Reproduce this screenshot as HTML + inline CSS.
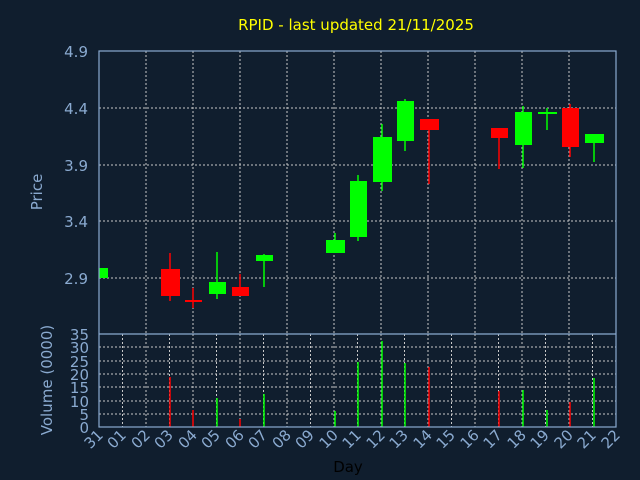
<!DOCTYPE html>
<html><head><style>html,body{margin:0;padding:0;background:#101e2e;}svg{display:block;font-family:"DejaVu Sans","Liberation Sans",sans-serif;}</style></head>
<body>
<svg width="640" height="480" viewBox="0 0 640 480">
<rect width="640" height="480" fill="#101e2e"/>
<text x="356" y="30" fill="#ffff00" font-size="15" text-anchor="middle">RPID - last updated 21/11/2025</text>
<g stroke="#c8c8c8" stroke-dasharray="2,2" stroke-width="1">
<line x1="99" x2="616" y1="108" y2="108"/><line x1="99" x2="616" y1="165" y2="165"/><line x1="99" x2="616" y1="221" y2="221"/><line x1="99" x2="616" y1="278" y2="278"/>
<line x1="146" x2="146" y1="51" y2="334"/><line x1="193" x2="193" y1="51" y2="334"/><line x1="240" x2="240" y1="51" y2="334"/><line x1="287" x2="287" y1="51" y2="334"/><line x1="334" x2="334" y1="51" y2="334"/><line x1="381" x2="381" y1="51" y2="334"/><line x1="428" x2="428" y1="51" y2="334"/><line x1="475" x2="475" y1="51" y2="334"/><line x1="522" x2="522" y1="51" y2="334"/><line x1="569" x2="569" y1="51" y2="334"/>
<line x1="99" x2="616" y1="347" y2="347"/><line x1="99" x2="616" y1="361" y2="361"/><line x1="99" x2="616" y1="374" y2="374"/><line x1="99" x2="616" y1="387" y2="387"/><line x1="99" x2="616" y1="401" y2="401"/><line x1="99" x2="616" y1="414" y2="414"/>
<line x1="122.5" x2="122.5" y1="334" y2="427"/><line x1="146" x2="146" y1="334" y2="427"/><line x1="169.5" x2="169.5" y1="334" y2="427"/><line x1="193" x2="193" y1="334" y2="427"/><line x1="216.5" x2="216.5" y1="334" y2="427"/><line x1="240" x2="240" y1="334" y2="427"/><line x1="263.5" x2="263.5" y1="334" y2="427"/><line x1="287" x2="287" y1="334" y2="427"/><line x1="310.5" x2="310.5" y1="334" y2="427"/><line x1="334" x2="334" y1="334" y2="427"/><line x1="357.5" x2="357.5" y1="334" y2="427"/><line x1="381" x2="381" y1="334" y2="427"/><line x1="404.5" x2="404.5" y1="334" y2="427"/><line x1="428" x2="428" y1="334" y2="427"/><line x1="451.5" x2="451.5" y1="334" y2="427"/><line x1="475" x2="475" y1="334" y2="427"/><line x1="498.5" x2="498.5" y1="334" y2="427"/><line x1="522" x2="522" y1="334" y2="427"/><line x1="545.5" x2="545.5" y1="334" y2="427"/><line x1="569" x2="569" y1="334" y2="427"/><line x1="592.5" x2="592.5" y1="334" y2="427"/>
</g>
<g stroke-width="1.5">
<rect x="99" y="268" width="9" height="10" fill="#00ff00"/>
<line x1="170" x2="170" y1="253" y2="301" stroke="#ff0000"/><rect x="161" y="269" width="19" height="27" fill="#ff0000"/>
<line x1="193" x2="193" y1="288" y2="308" stroke="#ff0000"/><rect x="185" y="300" width="17" height="2" fill="#ff0000"/>
<line x1="217" x2="217" y1="252" y2="299" stroke="#00ff00"/><rect x="209" y="282" width="17" height="12" fill="#00ff00"/>
<line x1="240" x2="240" y1="274" y2="296" stroke="#ff0000"/><rect x="232" y="287" width="17" height="9" fill="#ff0000"/>
<line x1="264" x2="264" y1="254" y2="287" stroke="#00ff00"/><rect x="256" y="255" width="17" height="6" fill="#00ff00"/>
<line x1="335" x2="335" y1="233" y2="253" stroke="#00ff00"/><rect x="326" y="240" width="19" height="13" fill="#00ff00"/>
<line x1="358" x2="358" y1="175" y2="241" stroke="#00ff00"/><rect x="350" y="181" width="17" height="56" fill="#00ff00"/>
<line x1="382" x2="382" y1="124" y2="191" stroke="#00ff00"/><rect x="373" y="137" width="19" height="45" fill="#00ff00"/>
<line x1="405" x2="405" y1="99" y2="151" stroke="#00ff00"/><rect x="397" y="101" width="17" height="40" fill="#00ff00"/>
<line x1="429" x2="429" y1="119" y2="184" stroke="#ff0000"/><rect x="420" y="119" width="19" height="11" fill="#ff0000"/>
<line x1="499" x2="499" y1="128" y2="169" stroke="#ff0000"/><rect x="491" y="128" width="17" height="10" fill="#ff0000"/>
<line x1="523" x2="523" y1="106" y2="168" stroke="#00ff00"/><rect x="515" y="112" width="17" height="33" fill="#00ff00"/>
<line x1="547" x2="547" y1="108" y2="130" stroke="#00ff00"/><rect x="538" y="112" width="19" height="2" fill="#00ff00"/>
<line x1="570" x2="570" y1="104" y2="157" stroke="#ff0000"/><rect x="562" y="108" width="17" height="39" fill="#ff0000"/>
<line x1="594" x2="594" y1="134" y2="162" stroke="#00ff00"/><rect x="585" y="134" width="19" height="9" fill="#00ff00"/>
</g>
<g stroke-width="1.5">
<line x1="170" x2="170" y1="377" y2="427" stroke="#ff0000"/>
<line x1="193" x2="193" y1="410" y2="427" stroke="#ff0000"/>
<line x1="217" x2="217" y1="398" y2="427" stroke="#00ff00"/>
<line x1="240" x2="240" y1="419" y2="427" stroke="#ff0000"/>
<line x1="264" x2="264" y1="394" y2="427" stroke="#00ff00"/>
<line x1="335" x2="335" y1="411" y2="427" stroke="#00ff00"/>
<line x1="358" x2="358" y1="362" y2="427" stroke="#00ff00"/>
<line x1="382" x2="382" y1="341" y2="427" stroke="#00ff00"/>
<line x1="405" x2="405" y1="363" y2="427" stroke="#00ff00"/>
<line x1="429" x2="429" y1="367" y2="427" stroke="#ff0000"/>
<line x1="499" x2="499" y1="391" y2="427" stroke="#ff0000"/>
<line x1="523" x2="523" y1="390" y2="427" stroke="#00ff00"/>
<line x1="547" x2="547" y1="410" y2="427" stroke="#00ff00"/>
<line x1="570" x2="570" y1="402" y2="427" stroke="#ff0000"/>
<line x1="594" x2="594" y1="378" y2="427" stroke="#00ff00"/>
</g>
<g stroke="#8aaad0" stroke-width="1.2" fill="none">
<rect x="99" y="51" width="517" height="376"/>
<line x1="99" x2="616" y1="334" y2="334"/>
</g>
<g fill="#8aaad0" font-size="15" text-anchor="end">
<text x="88" y="57">4.9</text><text x="88" y="114">4.4</text><text x="88" y="171">3.9</text><text x="88" y="227">3.4</text><text x="88" y="284">2.9</text>
</g>
<g fill="#8aaad0" font-size="15" text-anchor="end">
<text x="89" y="340">35</text><text x="89" y="353">30</text><text x="89" y="367">25</text><text x="89" y="380">20</text><text x="89" y="393">15</text><text x="89" y="407">10</text><text x="89" y="420">5</text><text x="89" y="433">0</text>
</g>
<text transform="translate(42,192) rotate(-90)" fill="#8aaad0" font-size="15" text-anchor="middle">Price</text>
<text transform="translate(52,380) rotate(-90)" fill="#8aaad0" font-size="15" text-anchor="middle">Volume (0000)</text>
<g fill="#8aaad0" font-size="15" text-anchor="end">
<text transform="translate(104,436) rotate(-45)">31</text><text transform="translate(127,436) rotate(-45)">01</text><text transform="translate(151,436) rotate(-45)">02</text><text transform="translate(174,436) rotate(-45)">03</text><text transform="translate(198,436) rotate(-45)">04</text><text transform="translate(221,436) rotate(-45)">05</text><text transform="translate(245,436) rotate(-45)">06</text><text transform="translate(268,436) rotate(-45)">07</text><text transform="translate(292,436) rotate(-45)">08</text><text transform="translate(315,436) rotate(-45)">09</text><text transform="translate(339,436) rotate(-45)">10</text><text transform="translate(362,436) rotate(-45)">11</text><text transform="translate(386,436) rotate(-45)">12</text><text transform="translate(409,436) rotate(-45)">13</text><text transform="translate(433,436) rotate(-45)">14</text><text transform="translate(456,436) rotate(-45)">15</text><text transform="translate(480,436) rotate(-45)">16</text><text transform="translate(503,436) rotate(-45)">17</text><text transform="translate(527,436) rotate(-45)">18</text><text transform="translate(550,436) rotate(-45)">19</text><text transform="translate(574,436) rotate(-45)">20</text><text transform="translate(597,436) rotate(-45)">21</text><text transform="translate(621,436) rotate(-45)">22</text>
</g>
<text x="348" y="472" fill="#000000" font-size="15" text-anchor="middle">Day</text>
</svg>
</body></html>
